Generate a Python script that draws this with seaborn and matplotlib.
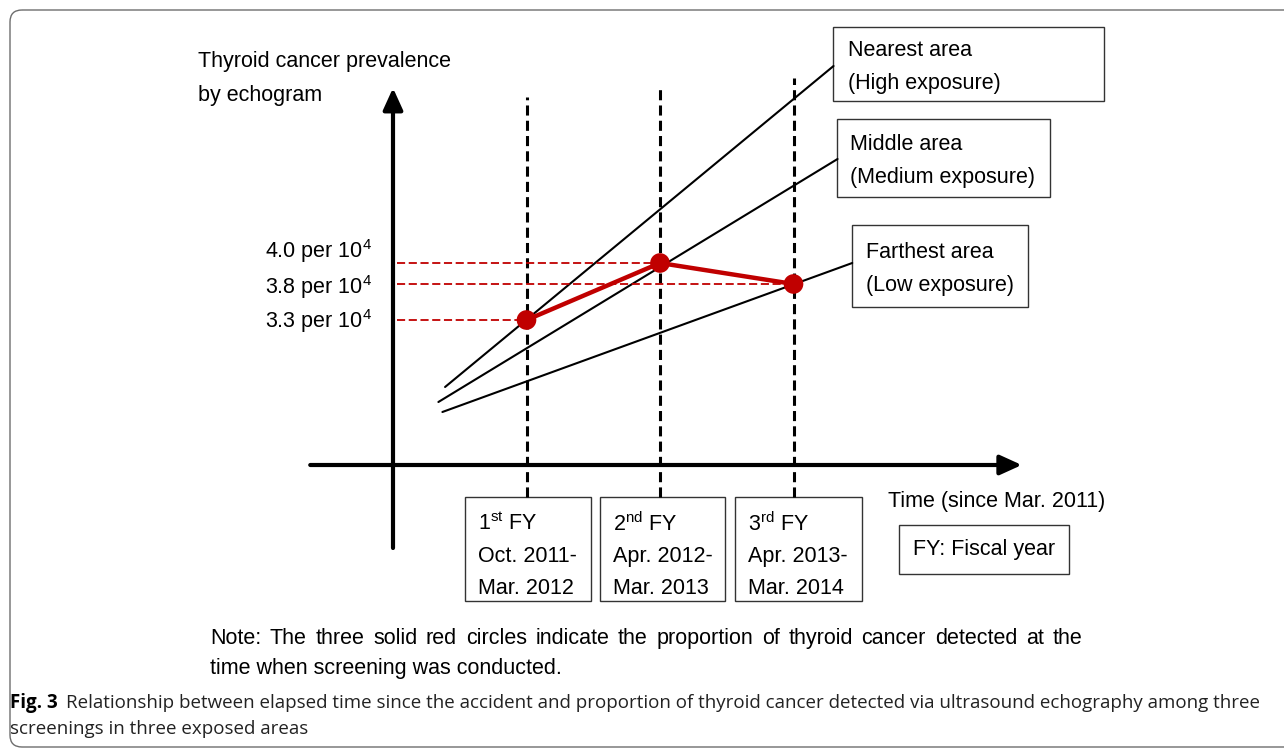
import matplotlib
matplotlib.use("Agg")
import matplotlib.pyplot as plt
from matplotlib.patches import FancyBboxPatch, Rectangle
import pandas as pd
import seaborn as sns

# schematic data (x = screening round, y = schematic prevalence level)
screen_x = [1, 2, 3]
screen_level = [1.45, 2.02, 1.81]
prev_labels = ["3.3 per 10$^{4}$", "4.0 per 10$^{4}$", "3.8 per 10$^{4}$"]
screen_tops = [3.68, 3.76, 3.87]

area_names = ["Nearest", "Middle", "Farthest"]
area_x0 = [0.39, 0.34, 0.37]
area_y0 = [0.78, 0.63, 0.53]
area_x1 = [3.30, 3.33, 3.44]
area_y1 = [3.99, 3.06, 2.02]

fy_labels = [["1$^{st}$ FY", "Oct. 2011-", "Mar. 2012"],
             ["2$^{nd}$ FY", "Apr. 2012-", "Mar. 2013"],
             ["3$^{rd}$ FY", "Apr. 2013-", "Mar. 2014"]]
area_labels = [["Nearest area", "(High exposure)"],
               ["Middle area", "(Medium exposure)"],
               ["Farthest area", "(Low exposure)"]]

sns.set_theme(style="white")
plt.rcParams["font.family"] = ["Liberation Sans", "DejaVu Sans"]
plt.rcParams["mathtext.fontset"] = "custom"
plt.rcParams["mathtext.rm"] = "Liberation Sans"
plt.rcParams["mathtext.default"] = "regular"
plt.rcParams["text.color"] = "black"

RED = "#C00000"
FS = 15.5

fig = plt.figure(figsize=(12.84, 7.49), dpi=100)
# background axes in pixel units for frame, boxes and text
bg = fig.add_axes([0, 0, 1, 1])
bg.set_xlim(0, 1284)
bg.set_ylim(749, 0)
bg.axis("off")
# data axes: origin of the schematic at the axis crossing
ax = fig.add_axes([0, 0, 1, 1])
ax.patch.set_alpha(0)

# frame
bg.add_patch(FancyBboxPatch((10, 10), 1400, 737, boxstyle="round,pad=0,rounding_size=12",
                            fc="none", ec="#6d6d6d", lw=1.0))

# axes arrows
ax.annotate("", xy=(0, 3.77), xytext=(0, -0.83),
            arrowprops=dict(arrowstyle="-|>,head_length=1.1,head_width=0.5", lw=3, color="black",
                            shrinkA=0, shrinkB=0))
ax.annotate("", xy=(4.71, 0), xytext=(-0.62, 0),
            arrowprops=dict(arrowstyle="-|>,head_length=1.1,head_width=0.5", lw=3, color="black",
                            shrinkA=0, shrinkB=0))

# screening dashed verticals
for x, top in zip(screen_x, screen_tops):
    ax.plot([x, x], [-0.32, top], color="black", lw=2.2, dashes=(3.3, 1.7))

# exposure-area lines
for x0, y0, x1, y1 in zip(area_x0, area_y0, area_x1, area_y1):
    ax.plot([x0, x1], [y0, y1], color="black", lw=1.5)

# red dashed guides
for x, y in zip(screen_x, screen_level):
    ax.plot([0.03, x], [y, y], color=RED, lw=1.3, dashes=(4.5, 2))

df = pd.DataFrame({"screen": screen_x, "level": screen_level})
sns.lineplot(data=df, x="screen", y="level", ax=ax, color=RED, lw=3.2, zorder=5)
sns.scatterplot(data=df, x="screen", y="level", ax=ax, color=RED, s=200, edgecolor="none", zorder=6)
ax.set_xlim(-393 / 133.5, 891 / 133.5)
ax.set_ylim(-2.84, 4.65)
ax.axis("off")

# y label
bg.text(198, 62, "Thyroid cancer prevalence", fontsize=FS, va="center")
bg.text(198, 95, "by echogram", fontsize=FS, va="center")

# prevalence labels
for lab, yy in zip([prev_labels[1], prev_labels[2], prev_labels[0]], [251, 287, 321]):
    bg.text(372, yy, lab, fontsize=FS, va="center", ha="right")

# area boxes
area_boxes = [(833, 27, 1104, 101), (837, 119, 1050, 197), (852, 225, 1028, 307)]
area_text_x = [848, 850, 866]
for (l, t, r, b), tx, lines in zip(area_boxes, area_text_x, area_labels):
    bg.add_patch(Rectangle((l, t), r - l, b - t, fc="white", ec="#333333", lw=1.0, zorder=3))
    mid = (t + b) / 2
    bg.text(tx, mid - 13, lines[0], fontsize=FS, va="center", zorder=4)
    bg.text(tx, mid + 19, lines[1], fontsize=FS, va="center", zorder=4)

# FY boxes
fy_boxes = [465, 600, 735]
fy_w = [126, 125, 127]
for l, w, lines in zip(fy_boxes, fy_w, fy_labels):
    bg.add_patch(Rectangle((l, 497), w, 104, fc="white", ec="#333333", lw=1.0))
    for k, s in enumerate(lines):
        bg.text(l + 13, 524 + 32.5 * k, s, fontsize=FS, va="center")

bg.text(888, 502, "Time (since Mar. 2011)", fontsize=FS, va="center")
bg.add_patch(Rectangle((899, 525), 170, 49, fc="white", ec="#333333", lw=1.0))
bg.text(984, 550, "FY: Fiscal year", fontsize=FS, va="center", ha="center")

# note (first line justified between x=210 and x=1082)
note1 = "Note: The three solid red circles indicate the proportion of thyroid cancer detected at the"
renderer = fig.canvas.get_renderer()
words = [bg.text(0, 644, w, fontsize=FS, va="baseline") for w in note1.split()]
widths = [t.get_window_extent(renderer).width for t in words]
gap = (1082 - 210 - sum(widths)) / (len(words) - 1)
xpos = 210
for t, w in zip(words, widths):
    t.set_x(xpos)
    xpos += w + gap
bg.text(210, 674, "time when screening was conducted.", fontsize=FS, va="baseline")

# caption
bg.text(10, 703, "Fig. 3", fontsize=13.5, va="center", fontweight="bold", family="Open Sans")
bg.text(66, 703, "Relationship between elapsed time since the accident and proportion of thyroid cancer "
        "detected via ultrasound echography among three", fontsize=13.5, va="center", family="Open Sans",
        color="#222222")
bg.text(10, 729, "screenings in three exposed areas", fontsize=13.5, va="center", family="Open Sans",
        color="#222222")

fig.savefig("out.png", dpi=100)
